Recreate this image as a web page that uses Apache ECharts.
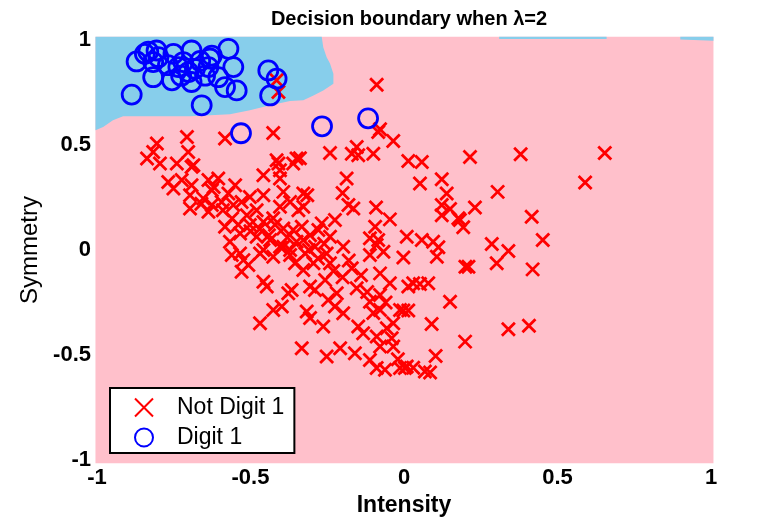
<!DOCTYPE html>
<html>
<head>
<meta charset="utf-8">
<script src="https://cdn.jsdelivr.net/npm/echarts@6/dist/echarts.min.js"></script>
<style>
  html, body { margin: 0; padding: 0; background: #fff; }
  #chart { width: 784px; height: 522px; }
</style>
</head>
<body>
<div id="chart"></div>
<script>
// points: [intensity, symmetry]
var notDigit1 = [
  [0.014,0.424],[0.058,0.419],[0.215,0.443],[0.380,0.456],[0.654,0.462],[0.590,0.322],
  [0.052,0.317],[0.123,0.337],[0.139,0.269],[0.305,0.277],[0.123,0.214],[0.123,0.166],
  [0.150,0.195],[0.231,0.203],[0.177,0.151],[0.193,0.108],[0.416,0.158],[0.009,0.063],
  [0.058,0.048],[0.095,0.039],[0.112,0.013],[0.107,-0.032],[-0.002,-0.035],[0.286,0.029],
  [0.340,-0.005],[0.452,0.048],[0.302,-0.063],[0.200,-0.079],[0.210,-0.079],[0.419,-0.092],
  [0.030,-0.158],[0.052,-0.162],[0.079,-0.158],[0.150,-0.246],[-0.002,-0.288],[0.014,-0.288],
  [0.090,-0.352],[0.340,-0.377],[0.407,-0.360],[0.199,-0.436],[0.103,-0.504],[0.003,-0.562],
  [0.068,-0.578],[0.085,-0.583],
  [-0.084,0.562],[-0.035,0.519],[-0.241,0.462],[-0.154,0.491],[-0.149,0.451],[-0.170,0.459],
  [-0.100,0.459],[-0.187,0.341],[-0.315,0.261],[-0.200,0.272],[-0.339,0.437],[-0.181,0.214],
  [-0.165,0.198],[-0.091,0.203],[-0.328,0.206],[0.182,0.143],[-0.046,0.146],[-0.225,0.143],
  [-0.268,0.127],[-0.279,0.095],[-0.094,0.111],[-0.306,0.071],[-0.241,0.063],[-0.111,0.056],
  [-0.084,0.048],[-0.198,0.016],
  [-0.469,-0.348],[-0.426,-0.285],[-0.398,-0.269],[-0.333,-0.467],[-0.252,-0.507],[-0.208,-0.467],
  [-0.160,-0.491],[-0.263,-0.364],[-0.306,-0.324],[-0.317,-0.293],[-0.198,-0.301],[-0.225,-0.269],
  [-0.247,-0.238],[-0.219,-0.206],[-0.290,-0.190],[-0.366,-0.190],[-0.377,-0.206],[-0.458,-0.151],
  [-0.447,-0.174],[-0.529,-0.103],[-0.534,-0.016],[-0.507,-0.071],[-0.469,-0.016],[-0.426,-0.032],
  [-0.393,0.016],[-0.371,-0.024],[-0.355,-0.063],[-0.328,-0.095],[-0.295,-0.063],[-0.290,0.016],
  [-0.252,-0.016],[-0.241,-0.063],[-0.257,-0.143],[-0.306,-0.174],[-0.170,-0.087],[-0.154,-0.182],
  [-0.111,-0.024],[-0.089,0.024],[-0.067,-0.008],[-0.078,-0.111],[-0.046,-0.158],[-0.078,-0.214],
  [-0.111,-0.246],[-0.078,-0.285],[-0.013,-0.285],[0.014,-0.174],[-0.149,-0.364],[-0.133,-0.396],
  [-0.089,-0.412],[-0.056,-0.372],[-0.035,-0.348],[-0.078,-0.459],[-0.035,-0.459],[-0.111,-0.523],
  [-0.089,-0.562],[-0.062,-0.570],[-0.013,-0.562],[0.009,-0.554],
  [-0.795,0.412],[-0.740,0.412],[-0.686,0.404],[-0.768,0.324],[-0.724,0.333],[-0.692,0.309],
  [-0.697,0.261],[-0.697,0.198],[-0.637,0.333],[-0.605,0.341],[-0.626,0.285],[-0.654,0.246],
  [-0.626,0.214],[-0.637,0.182],[-0.594,0.229],[-0.572,0.269],[-0.550,0.309],[-0.556,0.214],
  [-0.529,0.229],[-0.502,0.253],[-0.458,0.356],[-0.409,0.412],[-0.404,0.341],[-0.361,0.412],
  [-0.393,0.277],[-0.458,0.261],[-0.480,0.190],[-0.512,0.166],[-0.583,0.111],[-0.534,0.079],
  [-0.567,0.039],[-0.561,-0.024],[-0.502,0.119],[-0.480,0.063],[-0.458,0.134],[-0.426,0.151],
  [-0.404,0.206],[-0.371,0.229],[-0.344,0.190],[-0.328,0.269],[-0.333,0.111],[-0.361,0.095],
  [-0.393,0.103],[-0.436,0.048],[-0.458,0.000],[-0.404,0.016],[-0.371,0.000],[-0.328,0.048],
  [-0.322,-0.016],[-0.523,-0.048],
  [-0.707,0.538],[-0.583,0.531],[-0.426,0.557],[-0.805,0.507],[-0.837,0.436],[-0.817,0.467],
  [-0.703,0.467],[-0.350,0.436],[-0.415,0.428],[-0.404,0.380],[-0.751,0.293],[-0.692,0.396],
  [-0.415,0.808],[-0.409,0.752],[-0.089,0.787],[-0.078,0.575],
  [-0.620,0.300],[-0.590,0.190],[-0.560,0.150],[-0.540,0.120],[-0.500,0.090],[-0.470,0.100],
  [-0.440,0.070],[-0.420,0.120],[-0.380,0.060],[-0.350,0.040],[-0.310,0.000],[-0.280,-0.040],
  [-0.260,0.030],[-0.230,-0.100],[-0.200,-0.130],[-0.180,-0.050],[-0.140,-0.120],[-0.120,-0.200],
  [-0.100,-0.300],[-0.060,-0.250],[-0.040,-0.420],[-0.020,-0.520],[0.030,-0.560],[-0.660,0.220]
];

var digit1 = [
  [-0.887,0.740],[-0.871,0.898],[-0.844,0.934],[-0.833,0.945],[-0.806,0.950],[-0.817,0.895],
  [-0.800,0.918],[-0.817,0.823],[-0.751,0.934],[-0.756,0.808],[-0.735,0.871],[-0.719,0.895],
  [-0.692,0.950],[-0.692,0.800],[-0.681,0.863],[-0.702,0.847],[-0.626,0.926],[-0.637,0.871],
  [-0.605,0.823],[-0.572,0.958],[-0.556,0.871],[-0.583,0.776],[-0.545,0.760],[-0.659,0.689],
  [-0.442,0.855],[-0.415,0.816],[-0.436,0.736],[-0.632,0.912],[-0.769,0.880],[-0.726,0.830],
  [-0.664,0.900],[-0.648,0.830],
  [-0.531,0.556],[-0.267,0.589],[-0.117,0.627]
];

// regions classified as digit 1 (blue), rest of the square is pink
var blueRegions = [
  [[-1.005,1.015],[-0.268,1.015],[-0.263,0.966],[-0.252,0.918],[-0.241,0.888],[-0.230,0.839],
   [-0.230,0.792],[-0.263,0.760],[-0.295,0.736],[-0.328,0.713],[-0.371,0.710],[-0.436,0.689],
   [-0.502,0.665],[-0.567,0.646],[-0.697,0.637],[-0.915,0.637],[-0.948,0.618],[-0.980,0.586],
   [-1.005,0.570]],
  [[0.31,1.015],[0.66,1.015],[0.66,1.005],[0.31,1.005]],
  [[0.90,1.015],[1.008,1.015],[1.008,0.997],[0.90,1.002]]
];
var plotBox = [[-1.005,1.015],[1.008,-1.015]];

var xTicks = { min: -1, max: 1, step: 0.5 };
var yTicks = { min: -1, max: 1, step: 0.5 };

var chart = echarts.init(document.getElementById('chart'));
var font = 'Liberation Sans, Arial, sans-serif';

var option = {
  backgroundColor: '#fff',
  animation: false,
  title: {
    text: 'Decision boundary when λ=2',
    left: 404,
    top: 4,
    textAlign: 'center',
    textStyle: { fontFamily: font, fontSize: 20, fontWeight: 'bold', color: '#000' }
  },
  grid: { left: 97, right: 73, top: 40, bottom: 61 },
  legend: {
    orient: 'vertical',
    left: 110,
    top: 388,
    data: ['Not Digit 1', 'Digit 1'],
    backgroundColor: '#fff',
    borderColor: '#000',
    borderWidth: 2,
    borderRadius: 0,
    padding: [8, 10, 4, 24],
    itemGap: 7,
    itemWidth: 56,
    itemHeight: 18,
    textStyle: { fontFamily: font, fontSize: 23, color: '#000' }
  },
  xAxis: {
    type: 'value',
    min: xTicks.min, max: xTicks.max, interval: xTicks.step,
    name: 'Intensity',
    nameLocation: 'middle',
    nameGap: 32,
    nameTextStyle: { fontFamily: font, fontSize: 23, fontWeight: 'bold', color: '#000' },
    axisLine: { show: false },
    axisTick: { show: false },
    splitLine: { show: false },
    axisLabel: { margin: 7, fontFamily: font, fontSize: 22, fontWeight: 'bold', color: '#000' }
  },
  yAxis: {
    type: 'value',
    min: yTicks.min, max: yTicks.max, interval: yTicks.step,
    name: 'Symmetry',
    nameLocation: 'middle',
    nameGap: 44,
    nameTextStyle: { fontFamily: font, fontSize: 24, color: '#000' },
    axisLine: { show: false },
    axisTick: { show: false },
    splitLine: { show: false },
    axisLabel: { margin: 6, fontFamily: font, fontSize: 22, fontWeight: 'bold', color: '#000' }
  },
  series: [
    {
      name: 'background',
      type: 'custom',
      silent: true,
      z: 1,
      data: [0],
      renderItem: function(params, api) {
        var a = api.coord(plotBox[0]), b = api.coord(plotBox[1]);
        return {
          type: 'rect',
          shape: { x: a[0], y: a[1], width: b[0] - a[0], height: b[1] - a[1] },
          style: { fill: '#ffc0cb' }
        };
      }
    },
    {
      name: 'region',
      type: 'custom',
      silent: true,
      z: 2,
      data: blueRegions.map(function(r, i) { return i; }),
      renderItem: function(params, api) {
        var pts = blueRegions[params.dataIndex].map(function(p) { return api.coord(p); });
        return { type: 'polygon', shape: { points: pts }, style: { fill: '#87ceeb' } };
      }
    },
    {
      name: 'Not Digit 1',
      type: 'scatter',
      z: 3,
      symbol: 'path://M0,0L10,10M10,0L0,10',
      symbolSize: 13,
      itemStyle: { color: 'rgba(0,0,0,0)', borderColor: '#ff0000', borderWidth: 2.8, opacity: 1 },
      data: notDigit1
    },
    {
      name: 'Digit 1',
      type: 'scatter',
      z: 4,
      symbol: 'circle',
      symbolSize: 19,
      itemStyle: { color: 'rgba(0,0,0,0)', borderColor: '#0000ff', borderWidth: 2.8, opacity: 1 },
      data: digit1
    }
  ]
};

chart.setOption(option);
window.addEventListener('resize', function() {
  chart.resize();
});
</script>
</body>
</html>
